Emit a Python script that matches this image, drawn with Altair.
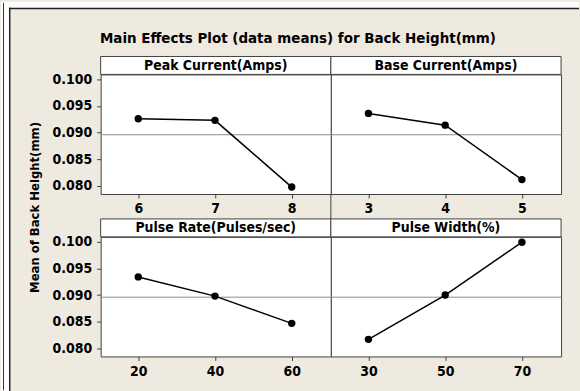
import altair as alt
import pandas as pd

# ---- data ----
factors = ["Peak Current(Amps)", "Base Current(Amps)", "Pulse Rate(Pulses/sec)", "Pulse Width(%)"]
peak_levels = [6, 7, 8]
peak_means = [0.0926, 0.0923, 0.0798]
base_levels = [3, 4, 5]
base_means = [0.0936, 0.0914, 0.0812]
rate_levels = [20, 40, 60]
rate_means = [0.0934, 0.0898, 0.0847]
width_levels = [30, 50, 70]
width_means = [0.0817, 0.0900, 0.0999]
grand_mean = [0.0896]
y_ticks = [0.080, 0.085, 0.090, 0.095, 0.100]
main_title = "Main Effects Plot (data means) for Back Height(mm)"
y_title = "Mean of Back Height(mm)"

# ---- styling / layout ----
FONT = "DejaVu Sans Condensed, DejaVu Sans"
W, H, STRIP = 231, 120, 18
GAP = 43
Y_DOMAIN = [0.0785, 0.1009]
BORDER = "#404040"
BG = "#EEEADF"
BOTTOM = 391
RIGHT = 580


def panel(name, levels, means, left, top, extra=None):
    step = levels[1] - levels[0]
    dom = [levels[0] - 0.49 * step, levels[-1] + 0.51 * step]
    df = pd.DataFrame({"level": levels, "mean": means})
    xaxis = alt.Axis(values=levels, title=None, grid=False, domain=False, tickSize=4,
                     labelPadding=4, labelFont=FONT, labelFontSize=14, labelFontWeight="bold",
                     labelColor="black", tickColor=BORDER, labelFlush=False)
    if left:
        kw = dict(values=y_ticks, format=".3f", grid=False, domain=False, tickSize=4,
                  labelPadding=5, labelFont=FONT, labelFontSize=14, labelFontWeight="bold",
                  labelColor="black", tickColor=BORDER)
        if top:
            kw.update(title=y_title, titleFont=FONT, titleFontSize=13, titleFontWeight="bold",
                      titleColor="black", titleX=-62, titleY=133, titleAngle=270,
                      titleAlign="center", titleBaseline="alphabetic")
        else:
            kw.update(title=None)
        yaxis = alt.Axis(**kw)
    else:
        yaxis = None
    xs = alt.Scale(domain=dom, nice=False, zero=False)
    ys = alt.Scale(domain=Y_DOMAIN, nice=False, zero=False)
    x = alt.X("level:Q", scale=xs, axis=xaxis)
    y = alt.Y("mean:Q", scale=ys, axis=yaxis)

    ref = alt.Chart(pd.DataFrame({"mean": grand_mean})).mark_rule(
        color="#8c8c8c", strokeWidth=1).encode(y=y)
    line = alt.Chart(df).mark_line(color="black", strokeWidth=1.5).encode(x=x, y=y)
    pts = alt.Chart(df).mark_point(filled=True, size=55, color="black", opacity=1).encode(x=x, y=y)
    one = pd.DataFrame({"name": [name]})
    strip = alt.Chart(one).mark_rect(fill="white", stroke=BORDER, strokeWidth=1, clip=False).encode(
        x=alt.value(0), x2=alt.value(W), y=alt.value(-STRIP), y2=alt.value(0))
    strip_txt = alt.Chart(one).mark_text(font=FONT, fontSize=14, fontWeight="bold", color="black",
                                         baseline="middle", align="center", clip=False).encode(
        text="name:N", x=alt.value(W / 2), y=alt.value(-STRIP / 2 + 0.5))
    layers = [ref, line, pts, strip, strip_txt]
    if extra:
        layers += extra
    return alt.layer(*layers).properties(width=W, height=H)


dummy = pd.DataFrame({"a": [0]})
gap_rule = alt.Chart(dummy).mark_rule(color=BORDER, strokeWidth=1, clip=False).encode(
    x=alt.value(W), y=alt.value(H), y2=alt.value(H + GAP - STRIP))

OX, OY = 100, 236  # bottom-left panel origin on the page


def box(x0, x1, y0, y1, color):
    return alt.Chart(dummy).mark_rect(fill=color, strokeWidth=0, clip=False).encode(
        x=alt.value(x0 - OX), x2=alt.value(x1 - OX), y=alt.value(y0 - OY), y2=alt.value(y1 - OY))


frame = [
    box(564, RIGHT, 7.5, BOTTOM, BG),
    box(9.5, RIGHT, 381, BOTTOM, BG),
    box(0, 8, 0, BOTTOM, "white"),
    box(8, RIGHT, 0, 6, "white"),
    box(2, 3, 1, BOTTOM - 1, "#333333"),
    box(8, 9.5, 6, BOTTOM, "#222222"),
    box(8, RIGHT, 6, 7.5, "#222222"),
    alt.Chart(pd.DataFrame({"t": [main_title]})).mark_text(
        font=FONT, fontSize=15, fontWeight="bold", color="black", align="center",
        baseline="alphabetic", clip=False).encode(
        text="t:N", x=alt.value(298 - OX), y=alt.value(41 - OY)),
]

p1 = panel(factors[0], peak_levels, peak_means, left=True, top=True, extra=[gap_rule])
p2 = panel(factors[1], base_levels, base_means, left=False, top=True)
p3 = panel(factors[2], rate_levels, rate_means, left=True, top=False, extra=frame)
p4 = panel(factors[3], width_levels, width_means, left=False, top=False)

chart = alt.concat(
    p1, p2, p3, p4, columns=2, spacing=alt.RowColnumber(row=GAP, column=0), bounds="flush"
).properties(
    padding=0
).configure(background=BG).configure_view(stroke=BORDER, strokeWidth=1, fill="white")

chart.save("out.html", embed_options={"renderer": "svg", "actions": False})
